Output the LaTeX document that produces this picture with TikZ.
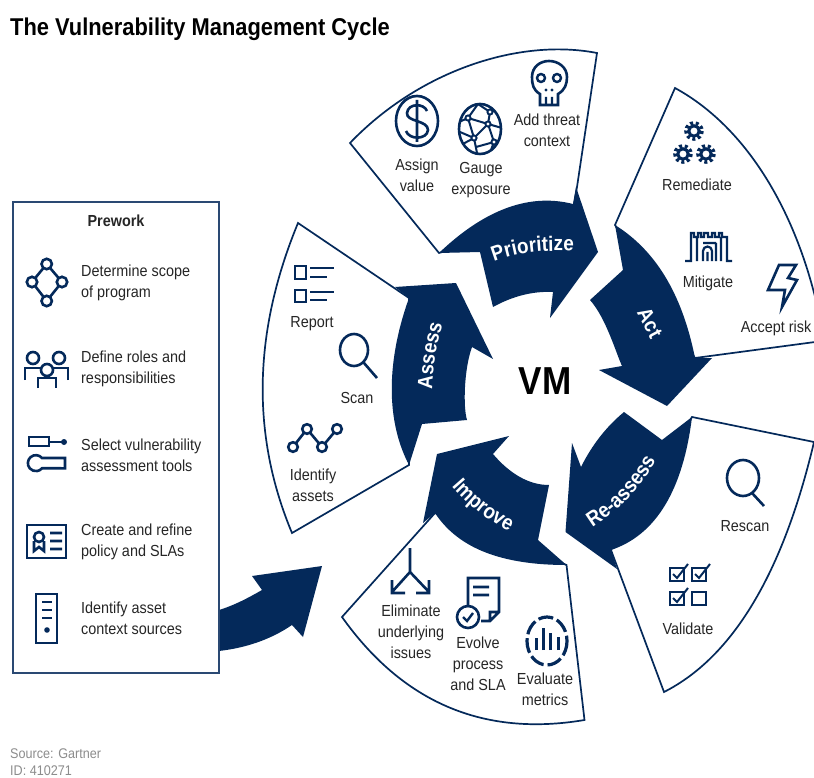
\documentclass[tikz,border=0pt]{standalone}
\usepackage{fontspec}
\setmainfont[FakeStretch=0.9]{Liberation Sans}
\usetikzlibrary{decorations.text}
\definecolor{navy}{HTML}{04295A}
\definecolor{txt}{HTML}{262626}
\newcommand\lblf{\fontsize{16}{21}\selectfont}
\newcommand\arrf{\fontsize{21}{24}\selectfont\bfseries}
\newcommand\gearic[2]{\draw[navy,line width=3] (#1,#2) circle (5.2);\draw[navy,line width=3.6,dash pattern=on 3pt off 2.6pt] (#1,#2) circle (8);}
\tikzset{
  ic/.style={draw=navy,line width=2.6,fill=none},
  lbl/.style={text=txt,font=\lblf,inner sep=0,align=center},
  lft/.style={text=txt,font=\lblf,inner sep=0,align=left,anchor=west},
  panel/.style={draw=navy,line width=1.7,fill=white,line join=miter},
  arrowblock/.style={fill=navy,draw=none},
  curved/.style={decorate,decoration={text along path,text align=center,text={|\arrf\color{white}|#1}}}
}
\begin{document}
\begin{tikzpicture}[x=1pt,y=-1pt]
\useasboundingbox (0,0) rectangle (814,778);
\clip (0,0) rectangle (814,778);
\fill[white] (0,0) rectangle (814,778);
% title and source
\node[anchor=west,inner sep=0,font=\fontsize{24.3}{28}\selectfont\bfseries,text=black] (title) at (10,29.5) {The Vulnerability Management Cycle};
\node[anchor=west,inner sep=0,font=\fontsize{14}{18}\selectfont,text=gray!90] (src) at (10,754) {Source: Gartner};
\node[anchor=west,inner sep=0,font=\fontsize{14}{18}\selectfont,text=gray!90] (id) at (10,771) {ID: 410271};
% panels
\draw[panel] (439,253) -- (350,143) .. controls (420,70) and (520,38) .. (597,53) -- (577,187) -- (573,210) -- cycle;
\draw[panel] (615,225) -- (675,88) .. controls (752,130) and (805,225) .. (824,340) -- (830,340) -- (695,358) -- cycle;
\draw[panel] (692,417) -- (814,442) .. controls (783,573) and (733,657) .. (664,692) -- (611,550) -- cycle;
\draw[panel] (566.5,565) -- (584.5,720) .. controls (483.5,737) and (403,702.7) .. (342,617) -- (435,513) -- cycle;
\draw[panel] (409,298) -- (298,223) .. controls (253,332) and (251,435) .. (292,533) -- (409,465) -- cycle;
% arrows
\fill[arrowblock] (439,253) .. controls (485,209) and (530,193) .. (573,204) -- (576,187) -- (598,252) -- (550,318) -- (553,292) .. controls (533,291) and (513,296) .. (493,307) -- (480,252) -- cycle;
\fill[arrowblock] (615,225) .. controls (655,250) and (682,293) .. (695,358) -- (712,358) -- (667,406) -- (599,370) -- (622,366) .. controls (616,353) and (606,318) .. (590,300) -- (623,270) -- cycle;
\fill[arrowblock] (624,412) -- (662,440) -- (692,417) .. controls (683,490) and (656,535) .. (611,550) -- (617,569) -- (565.5,532) -- (572,443) -- (581,467) .. controls (592,445) and (606,427) .. (624,412) -- cycle;
\fill[arrowblock] (509,436) -- (493,454) .. controls (510,474) and (529,485) .. (549,485) -- (538,540) -- (566.5,565) .. controls (501,565) and (458,548) .. (435,513) -- (423,523) -- (437,454) -- cycle;
\fill[arrowblock] (395,287) -- (456,283) -- (493,359) -- (472,347) .. controls (464,369) and (463,407) .. (467,420) -- (422,424) -- (409,465) .. controls (386,421) and (386,362) .. (409,298) -- cycle;
\fill[arrowblock] (322,566) -- (252,576) -- (262,590) .. controls (248,598) and (235,605) .. (219,610) -- (219,651) .. controls (245,648) and (270,640) .. (292,625) -- (303,637) -- cycle;
% arrow labels
\path[curved=Prioritize] (488,264) .. controls (515,252) and (545,249) .. (580,252);
\path[curved=Assess] (432,398) .. controls (432,370) and (436,345) .. (445,316);
\path[curved=Re-assess] (588,530) .. controls (612,516) and (640,492) .. (658,456);
\path[curved=Improve] (448,482) .. controls (462,500) and (485,520) .. (514,534);
\node[inner sep=0,font=\arrf,text=white,rotate=-62] (act) at (650,323) {Act};
\node[inner sep=0,font=\fontsize{39}{40}\selectfont\bfseries,text=black] (vm) at (545,381) {VM};
% box
\draw[draw=navy!85,line width=1.7,fill=none] (13,202) rectangle (219,673);
\node[inner sep=0,font=\fontsize{16}{20}\selectfont\bfseries,text=txt] (pw) at (116,221) {Prework};
\node[lft] (p1) at (81,283) {Determine scope\\of program};
\node[lft] (p2) at (81,369) {Define roles and\\responsibilities};
\node[lft] (p3) at (81,455) {Select vulnerability\\assessment tools};
\node[lft] (p4) at (81,542) {Create and refine\\policy and SLAs};
\node[lft] (p5) at (81,618) {Identify asset\\context sources};
% prework icons
\draw[ic] (46.7,264) -- (32,282) -- (46.7,301) -- (62,282) -- cycle;
\foreach \a/\b in {46.7/264,32/282,62/282,46.7/301}{\draw[ic,fill=white] (\a,\b) circle (5.2);}
\foreach \a/\b in {33/358,59/358,47/370}{\draw[ic] (\a,\b) circle (6);}
\draw[ic] (25,380) -- (25,368) -- (40,368) (68,380) -- (68,368) -- (53,368) (38,388) -- (38,378) -- (56,378) -- (56,388);
\draw[ic] (29,437) rectangle (49,446) (49,442) -- (62,442);
\fill[navy] (64,442) circle (3);
\draw[ic] (65,458) -- (42,458) arc (-40:-320:8) -- (65,468.3) -- cycle;
\draw[ic] (27,525) rectangle (66,558);
\draw[ic] (39,537) circle (5);
\draw[ic] (34,541) -- (34,551) -- (39,547) -- (44,551) -- (44,541) (50,533) -- (62,533) (50,541) -- (62,541) (50,549) -- (62,549);
\draw[ic] (36,594) rectangle (57,643) (42,602) -- (52,602) (42,610) -- (52,610) (42,618) -- (52,618);
\fill[navy] (47,630) circle (2.8);
% prioritize
\draw[ic] (417,121) ellipse (21 and 25);
\draw[ic] (427,111) .. controls (424,103) and (408,103) .. (407,113) .. controls (406,122) and (428,120) .. (428,130) .. controls (427,140) and (409,140) .. (406,131) (417,100) -- (417,142);
\node[lbl] (n1) at (417,175.5) {Assign\\value};
\begin{scope}
\clip (480,129) ellipse (21 and 25);
\draw[navy,line width=2] (459,122) -- (468,118) -- (478,104) -- (490,112) -- (500,108) (490,112) -- (488,124) -- (502,128) (488,124) -- (474,138) -- (460,132) (468,118) -- (474,138) (474,138) -- (478,158) (488,124) -- (494,142) -- (504,140) (494,142) -- (488,158) (478,104) -- (470,100) (494,142) -- (476,147) (468,118) -- (488,124) (459,146) -- (474,138);
\end{scope}
\draw[ic] (480,129) ellipse (21 and 25);
\foreach \a/\b in {468/118,490/112,488/124,474/138,494/142}{\fill[navy] (\a,\b) circle (3.6);\fill[white] (\a,\b) circle (1.7);}
\node[lbl] (n2) at (481,180.5) {Gauge\\exposure};
\draw[ic] (540,105) -- (540,94) .. controls (533,90) and (532,84) .. (532,77) .. controls (532,67) and (540,61) .. (549,61) .. controls (558,61) and (567,67) .. (567,77) .. controls (567,84) and (565,90) .. (558,94) -- (558,105) -- cycle;
\draw[navy,line width=2.4] (541,78) circle (4) (557,78) circle (4) (546,105) -- (546,97) (552,105) -- (552,97);
\fill[navy] (546,90) circle (1.6) (552,90) circle (1.6);
\node[lbl] (n3) at (547,130.5) {Add threat\\context};
% act
\gearic{694}{131}\gearic{683}{154}\gearic{706}{154}
\node[lbl] (a1) at (697,185) {Remediate};
\draw[navy,line width=2.2,line join=miter] (685,261) -- (691,261) -- (691,233) -- (694,233) -- (694,237) -- (698,237) -- (698,233) -- (701,233) -- (701,237) -- (704,237) -- (704,233) -- (708,233) -- (708,237) -- (712,237) -- (712,233) -- (715,233) -- (715,237) -- (719,237) -- (719,233) -- (722,233) -- (722,237) -- (727,237) -- (727,261) -- (732,261) (697,237) -- (697,261) (721,237) -- (721,261) (703,261) -- (703,251) arc (180:360:4.5) -- (712,261) (707.5,261) -- (707.5,252) (716,243) -- (716,261) (703,243) -- (716,243);
\node[lbl] (a2) at (708,283) {Mitigate};
\draw[ic,line join=miter] (779,265) -- (796,265) -- (788,278) -- (797,280) -- (782,307) -- (785,290) -- (768,290) -- cycle;
\node[lbl] (a3) at (776,328) {Accept risk};
% re-assess
\draw[ic] (743,478) ellipse (16 and 18) (752,493) -- (764,506);
\node[lbl] (r1) at (745,526) {Rescan};
\foreach \a/\b in {670/568,692/568,670/592}{\draw[ic] (\a,\b) rectangle ++(14,13);\draw[navy,line width=2] (\a+3,\b+6) -- ++(4,4) -- ++(11,-14);}
\draw[ic] (692,592) rectangle ++(14,13);
\node[lbl] (r2) at (688,629) {Validate};
% improve
\draw[ic] (410,548) -- (410,572) -- (392,592) (410,572) -- (429,592) (392,580) -- (392,593) -- (405,593) (429,580) -- (429,593) -- (416,593);
\node[lbl] (i1) at (411,631.5) {Eliminate\\underlying\\issues};
\draw[ic] (468,607) -- (468,578) -- (499,578) -- (499,612) -- (490,621) -- (481,621) (490,621) -- (490,612) -- (499,612) (473,587) -- (489,587) (473,595) -- (489,595);
\draw[ic] (468,617) circle (11);
\draw[navy,line width=2.4] (463,617) -- (467,621) -- (473,613);
\node[lbl] (i2) at (478,664) {Evolve\\process\\and SLA};
\draw[navy,line width=3.2,dash pattern=on 15pt off 4pt] (547,641) ellipse (20 and 24);
\draw[navy,line width=3] (536,650) -- (536,638) (543,650) -- (543,628) (550,650) -- (550,633) (558,650) -- (558,637);
\node[lbl] (i3) at (545,689) {Evaluate\\metrics};
% assess
\draw[ic,line join=miter] (295,266) rectangle (306,279) (295,290) rectangle (306,302) (310,268) -- (334,268) (310,277) -- (327,277) (310,292) -- (334,292) (310,300) -- (327,300);
\node[lbl] (s1) at (312,323.5) {Report};
\draw[ic] (354,350) ellipse (14 and 16) (364,363) -- (377,378);
\node[lbl] (s2) at (357,397.5) {Scan};
\draw[ic] (293,447) -- (307,429) -- (322,447) -- (337,429);
\foreach \a/\b in {293/447,307/429,322/447,337/429}{\draw[ic,fill=white] (\a,\b) circle (4.8);}
\node[lbl] (s3) at (313,485) {Identify\\assets};
\end{tikzpicture}
\end{document}
